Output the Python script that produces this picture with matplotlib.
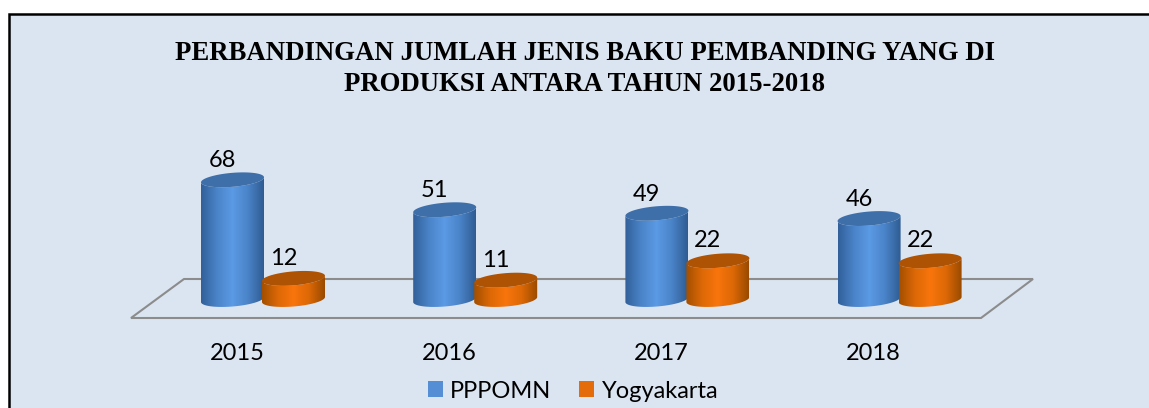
import numpy as np
import matplotlib
matplotlib.use("Agg")
import matplotlib.pyplot as plt
from matplotlib.colors import LinearSegmentedColormap
from matplotlib.patches import Polygon, Rectangle, Patch

years = ["2015", "2016", "2017", "2018"]
pppomn = [68, 51, 49, 46]
yogyakarta = [12, 11, 22, 22]
title = "PERBANDINGAN JUMLAH JENIS BAKU PEMBANDING YANG DI\nPRODUKSI ANTARA TAHUN 2015-2018"

BG = "#dbe5f1"
blue_cmap = LinearSegmentedColormap.from_list("b", ["#31609a", "#4a83c8", "#5b9ae5", "#4a83c8", "#2f5c92"])
orange_cmap = LinearSegmentedColormap.from_list("o", ["#a34f00", "#dc6806", "#f9750c", "#dc6806", "#994a00"])
blue_top = "#3f6fa8"
orange_top = "#ae5303"

# everything is laid out in the picture's pixels, y going down
fig = plt.figure(figsize=(11.49, 4.08), dpi=100)
ax = fig.add_axes([0, 0, 1, 1])
ax.set_xlim(0, 1149)
ax.set_ylim(408, 0)
ax.axis("off")

# right and bottom edges of the frame fall outside the picture
ax.add_patch(Rectangle((9, 13.5), 1200, 450, fc=BG, ec="black", lw=1.8))

floor = Polygon([(131, 318), (184, 279), (1033, 279), (981, 318)], closed=True,
                fc="none", ec="#8c8c8c", lw=1.5, zorder=1)
ax.add_patch(floor)

a = 31.5
b = 7.0
slope = 0.08
base_y = 299.5
px_per_unit = 1.76


def cylinder(x0, value, cmap, top_color, z):
    cx = x0 + a
    top_y = base_y - value * px_per_unit
    t = np.linspace(0, np.pi, 60)
    ex = a * np.cos(t)
    ey = b * np.sin(t) - slope * ex
    body = np.concatenate([
        np.column_stack([cx + ex, base_y + ey]),
        np.column_stack([cx + ex[::-1], top_y + ey[::-1]]),
    ])
    poly = Polygon(body, closed=True, fc="none", ec="none", zorder=z)
    ax.add_patch(poly)
    grad = np.linspace(0, 1, 128).reshape(1, -1)
    im = ax.imshow(grad, cmap=cmap, extent=(x0, x0 + 2 * a, base_y + 10, top_y - 10),
                   aspect="auto", zorder=z, interpolation="bilinear")
    im.set_clip_path(poly)
    t2 = np.linspace(0, 2 * np.pi, 120)
    ex2 = a * np.cos(t2)
    ey2 = b * np.sin(t2) - slope * ex2
    ax.add_patch(Polygon(np.column_stack([cx + ex2, top_y + ey2]), closed=True,
                         fc=top_color, ec="none", zorder=z + 0.1))
    return cx, top_y


label_font = dict(family="Lato", fontsize=17, color="black")
for i, year in enumerate(years):
    x_blue = 201 + 212.2 * i
    cx, top = cylinder(x_blue, pppomn[i], blue_cmap, blue_top, 2 + i)
    ax.text(cx - 10, top - 19, str(pppomn[i]), ha="center", va="center", zorder=10, **label_font)
    cx, top = cylinder(x_blue + 61, yogyakarta[i], orange_cmap, orange_top, 2.5 + i)
    ax.text(cx - 10, top - 20, str(yogyakarta[i]), ha="center", va="center", zorder=10, **label_font)
    ax.text(x_blue + 36, 353, year, ha="center", va="center", **label_font)

ax.text(585, 69, title, ha="center", va="center", family="Liberation Serif",
        fontweight="bold", fontsize=19.3, linespacing=1.36, color="black")

handles = [Patch(fc="#558ed5", ec="none", label="PPPOMN"),
           Patch(fc="#e46c0a", ec="none", label="Yogyakarta")]
ax.legend(handles=handles, loc="center", bbox_to_anchor=(573 / 1149, 1 - 391 / 408), ncol=2,
          frameon=False, handlelength=0.635, handleheight=0.635, handletextpad=0.3,
          columnspacing=1.2, borderpad=0, prop={"family": "Lato", "size": 17})

fig.savefig("out.png", dpi=100)
